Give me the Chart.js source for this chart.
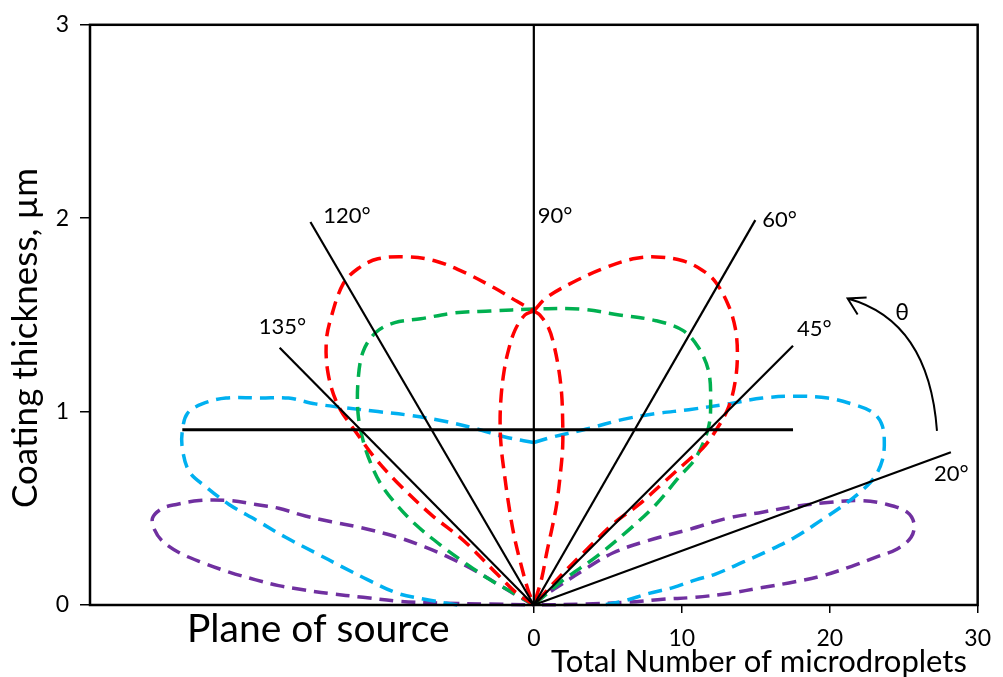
<!DOCTYPE html>
<html>
<head>
<meta charset="utf-8">
<script src="https://cdn.jsdelivr.net/npm/chart.js@4.4.1/dist/chart.umd.min.js"></script>
<style>
  html, body { margin: 0; padding: 0; background: #fff; }
  #wrap { width: 1003px; height: 677px; }
</style>
</head>
<body>
<div id="wrap"><canvas id="chart" width="1003" height="677"></canvas></div>
<script>
// Lobe curves: [number of microdroplets, thickness in µm]
const redLeftOuter = [[0,0],[-1.14,0.06],[-2.48,0.16],[-4.70,0.33],[-6.98,0.47],[-9.19,0.63],[-10.74,0.76],[-12.08,0.90],[-13.22,1.03],[-13.89,1.19],[-14.03,1.36],[-13.69,1.49],[-12.89,1.66],[-11.88,1.74],[-10.54,1.79],[-8.52,1.80],[-6.71,1.78],[-4.70,1.72],[-2.68,1.64],[-1.14,1.57],[0,1.52]];
const redInnerLeft = [[0,1.52],[-0.60,1.50],[-1.28,1.42],[-1.74,1.31],[-2.01,1.21],[-2.21,1.08],[-2.28,0.95],[-2.21,0.82],[-2.01,0.69],[-1.74,0.54],[-1.34,0.36],[-0.87,0.21],[-0.40,0.08],[0,0]];
const redInnerRight = [[0,1.52],[0.40,1.50],[1.01,1.43],[1.34,1.35],[1.68,1.22],[1.88,1.09],[1.95,0.95],[1.95,0.82],[1.81,0.69],[1.54,0.52],[1.21,0.39],[0.87,0.27],[0.54,0.14],[0.20,0.05],[0,0]];
const redRightOuter = [[0,1.52],[0.87,1.59],[2.68,1.67],[4.70,1.74],[6.71,1.79],[8.26,1.80],[10.07,1.78],[11.41,1.73],[12.28,1.67],[13.15,1.55],[13.62,1.43],[13.76,1.30],[13.62,1.16],[13.15,1.02],[12.28,0.90],[11.41,0.81],[10.47,0.75],[8.72,0.63],[7.11,0.52],[5.37,0.42],[3.36,0.27],[1.54,0.13],[0,0]];

const greenLobe = [[0,0],[-1.34,0.06],[-2.95,0.13],[-4.70,0.22],[-6.31,0.31],[-8.05,0.42],[-9.30,0.52],[-10.30,0.62],[-11.01,0.73],[-11.54,0.85],[-11.88,0.99],[-11.88,1.16],[-11.54,1.31],[-10.67,1.41],[-9.40,1.46],[-7.65,1.48],[-5.37,1.51],[-2.95,1.52],[0,1.53],[3.09,1.53],[5.77,1.50],[8.26,1.47],[10.07,1.42],[11.14,1.33],[11.81,1.21],[11.95,1.06],[11.81,0.92],[10.94,0.76],[9.80,0.66],[8.26,0.52],[6.44,0.39],[4.23,0.25],[2.01,0.13],[0,0]];

const blueLeft = [[-5.17,0],[-7.38,0.03],[-9.19,0.06],[-11.21,0.13],[-13.02,0.20],[-14.77,0.27],[-16.78,0.35],[-18.79,0.44],[-20.60,0.52],[-22.15,0.61],[-23.29,0.69],[-23.76,0.81],[-23.76,0.90],[-23.42,0.99],[-22.42,1.04],[-20.81,1.07],[-18.39,1.07],[-16.58,1.07],[-14.77,1.04],[-12.75,1.02],[-10.54,1.00],[-8.32,0.98],[-6.04,0.95],[-3.83,0.91],[-2.01,0.87],[0,0.84]];
const blueRight = [[0,0.84],[1.34,0.87],[3.56,0.91],[6.04,0.96],[8.26,0.99],[10.47,1.01],[13.15,1.04],[15.44,1.07],[17.65,1.08],[19.87,1.07],[21.48,1.04],[22.82,1.00],[23.49,0.94],[23.69,0.85],[23.56,0.75],[23.02,0.66],[22.15,0.59],[21.01,0.52],[19.46,0.44],[17.65,0.35],[15.84,0.28],[14.09,0.22],[12.28,0.16],[10.94,0.13],[9.40,0.09],[7.79,0.06],[6.04,0.02],[4.70,0]];

const purpleLeft = [[0,0],[-0.94,0.04],[-2.48,0.11],[-4.03,0.18],[-5.84,0.25],[-7.38,0.30],[-9.19,0.35],[-11.68,0.40],[-13.69,0.43],[-15.44,0.46],[-17.25,0.50],[-18.79,0.52],[-20.60,0.54],[-22.62,0.54],[-24.16,0.52],[-25.10,0.50],[-25.77,0.45],[-25.64,0.39],[-25.10,0.33],[-23.96,0.27],[-22.42,0.22],[-20.60,0.17],[-18.79,0.13],[-17.25,0.10],[-15.70,0.08],[-13.89,0.06],[-11.54,0.04],[-9.19,0.02],[-6.31,0.01],[-3.15,0.005],[0,0]];
const purpleRight = [[0,0],[0.54,0.04],[1.54,0.09],[3.36,0.18],[5.37,0.27],[7.58,0.33],[10.47,0.39],[13.15,0.45],[15.44,0.48],[17.65,0.51],[19.87,0.53],[22.15,0.54],[23.89,0.52],[25.23,0.48],[25.70,0.42],[25.50,0.35],[24.56,0.29],[23.22,0.25],[21.48,0.20],[19.46,0.15],[17.65,0.12],[15.44,0.09],[13.15,0.06],[10.94,0.04],[8.72,0.03],[6.44,0.015],[3.56,0.005],[0,0]];

// Angle rays from the source point, and the horizontal reference line
const rayAngles = ['90°', '120°', '135°', '60°', '45°', '20°'];
const rayEnds = [[0,3],[-15.10,1.98],[-17.18,1.33],[14.97,1.99],[17.52,1.34],[28.19,0.79]];
const levelLine = [[-23.76,0.906],[17.52,0.906]];

const xTicks = [0, 10, 20, 30];
const yTicks = [0, 1, 2, 3];

const FONT = "Lato, 'Open Sans', sans-serif";

// Label anchors (data coords), left edge / vertical middle
const rayLabelPos = [[0.27,2.01],[-14.23,2.01],[-18.59,1.44],[15.44,1.99],[17.79,1.43],[27.05,0.68]];

const toPts = arr => arr.map(p => ({x: p[0], y: p[1]}));

function dashed(data, color) {
    return {
        data: toPts(data),
        showLine: true,
        borderColor: color,
        borderWidth: 3.5,
        borderDash: [14, 8],
        borderCapStyle: 'butt',
        pointRadius: 0,
        tension: 0.35,
        clip: 5
    };
}
function solid(data, width) {
    return {
        data: toPts(data),
        showLine: true,
        borderColor: '#000',
        borderWidth: width,
        pointRadius: 0,
        tension: 0,
        clip: 5
    };
}

const datasets = [];
rayEnds.forEach(e => datasets.push(solid([[0,0], e], 2.2)));
datasets.push(solid(levelLine, 3));
[redLeftOuter, redInnerLeft, redInnerRight, redRightOuter].forEach(c => datasets.push(dashed(c, '#FF0000')));
datasets.push(dashed(greenLobe, '#00B050'));
datasets.push(dashed(blueLeft, '#00B0F0'));
datasets.push(dashed(blueRight, '#00B0F0'));
datasets.push(dashed(purpleLeft, '#7030A0'));
datasets.push(dashed(purpleRight, '#7030A0'));

// Frame, titles, angle labels and θ arrow
const decorPlugin = {
    id: 'decor',
    afterDraw(chart) {
        const {ctx, chartArea: a, scales: {x, y}} = chart;
        ctx.save();
        ctx.strokeStyle = '#000';
        ctx.lineWidth = 2.5;
        ctx.strokeRect(a.left, a.top, a.right - a.left, a.bottom - a.top);

        ctx.fillStyle = '#000';
        ctx.font = '22px ' + FONT;
        ctx.textAlign = 'left';
        ctx.textBaseline = 'middle';
        rayAngles.forEach((t, i) => {
            ctx.fillText(t, x.getPixelForValue(rayLabelPos[i][0]), y.getPixelForValue(rayLabelPos[i][1]));
        });

        ctx.textAlign = 'center';
        ctx.font = "23px " + FONT + ", 'DejaVu Sans'";
        ctx.fillText('θ', x.getPixelForValue(24.9), y.getPixelForValue(1.51));

        // curved arrow
        const sx = x.getPixelForValue(27.25), sy = y.getPixelForValue(0.90);
        const cx = x.getPixelForValue(26.71), cy = y.getPixelForValue(1.47);
        const ex = x.getPixelForValue(21.21), ey = y.getPixelForValue(1.585);
        ctx.lineWidth = 2;
        ctx.beginPath();
        ctx.moveTo(sx, sy);
        ctx.quadraticCurveTo(cx, cy, ex, ey);
        ctx.moveTo(ex + 19, ey - 1);
        ctx.lineTo(ex, ey);
        ctx.lineTo(ex + 10, ey + 16);
        ctx.stroke();

        // axis titles
        ctx.textBaseline = 'alphabetic';
        ctx.font = '31px ' + FONT;
        ctx.textAlign = 'center';
        ctx.fillText('Total Number of microdroplets', 759, 672);

        ctx.font = '39px ' + FONT;
        ctx.textAlign = 'left';
        ctx.fillText('Plane of source', 187, 642);

        ctx.translate(37, 338);
        ctx.rotate(-Math.PI / 2);
        ctx.font = '35px ' + FONT;
        ctx.textAlign = 'center';
        ctx.fillText('Coating thickness, µm', 0, 0);
        ctx.restore();
    }
};

new Chart(document.getElementById('chart'), {
    type: 'scatter',
    data: { datasets: datasets },
    options: {
        responsive: false,
        animation: false,
        layout: { padding: { left: 0, top: 22, right: 19, bottom: 0 } },
        plugins: { legend: { display: false }, tooltip: { enabled: false } },
        scales: {
            x: {
                type: 'linear',
                min: -30,
                max: 30,
                afterBuildTicks: axis => { axis.ticks = xTicks.map(v => ({value: v})); },
                afterFit: axis => { axis.height = 72; },
                border: { display: false },
                grid: { drawOnChartArea: false, drawTicks: true, tickLength: 8, color: '#000', lineWidth: 1.5 },
                ticks: { color: '#000', font: { family: FONT, size: 23 }, padding: 12, maxRotation: 0 }
            },
            y: {
                type: 'linear',
                min: 0,
                max: 3,
                afterBuildTicks: axis => { axis.ticks = yTicks.map(v => ({value: v})); },
                afterFit: axis => { axis.width = 90; },
                border: { display: false },
                grid: { drawOnChartArea: false, drawTicks: true, tickLength: 10, color: '#000', lineWidth: 1.5 },
                ticks: { color: '#000', font: { family: FONT, size: 23 }, padding: 11 }
            }
        }
    },
    plugins: [decorPlugin]
});
</script>
</body>
</html>
